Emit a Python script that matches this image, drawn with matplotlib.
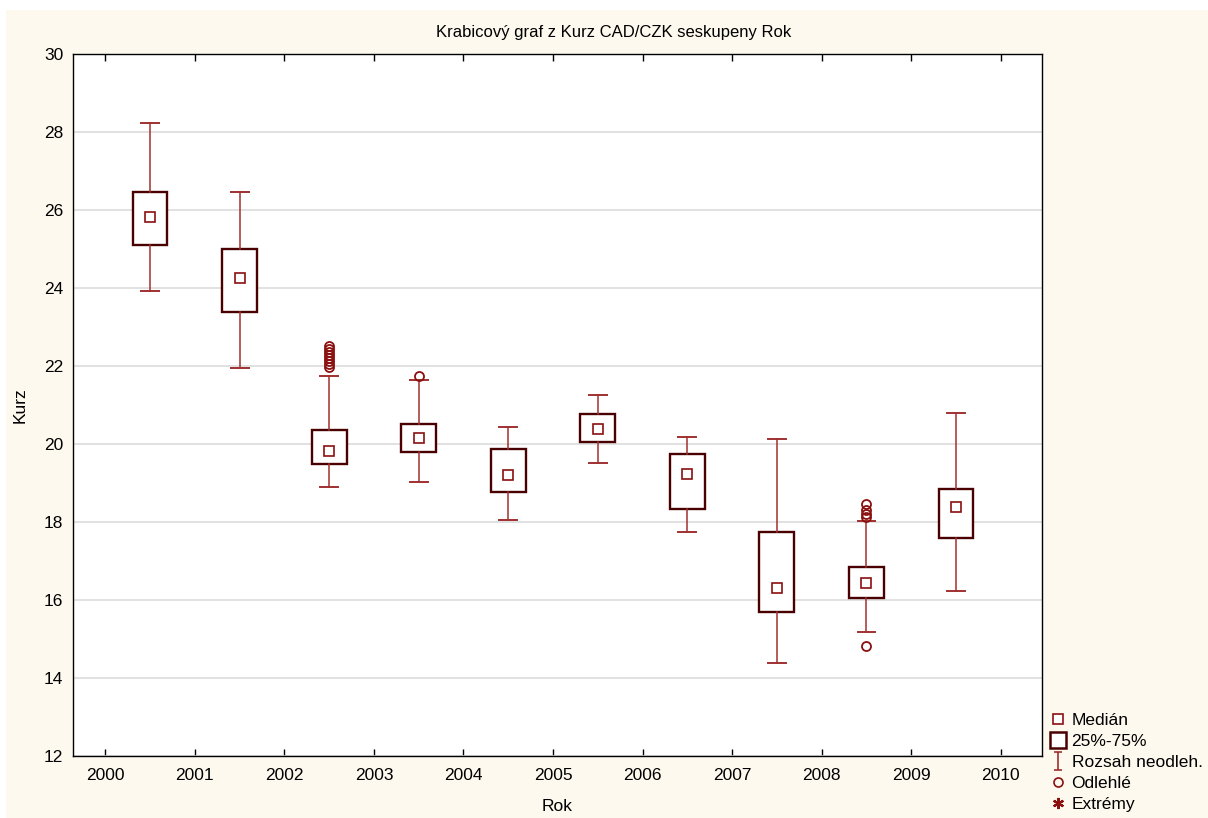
import matplotlib
matplotlib.use("Agg")
import matplotlib.pyplot as plt
from matplotlib.lines import Line2D
from matplotlib.patches import Rectangle
from matplotlib.path import Path

plt.rcParams["font.family"] = ["Liberation Sans", "DejaVu Sans"]

# Kurz CAD/CZK po rocich
years = [2000, 2001, 2002, 2003, 2004, 2005, 2006, 2007, 2008, 2009]
medians = [25.81, 24.26, 19.81, 20.16, 19.21, 20.38, 19.24, 16.31, 16.43, 18.38]
q1 = [25.10, 23.38, 19.48, 19.79, 18.77, 20.05, 18.34, 15.68, 16.05, 17.59]
q3 = [26.47, 25.01, 20.36, 20.52, 19.88, 20.78, 19.75, 17.74, 16.85, 18.85]
whis_lo = [23.93, 21.94, 18.91, 19.03, 18.05, 19.52, 17.75, 14.38, 15.18, 16.23]
whis_hi = [28.24, 26.47, 21.75, 21.64, 20.44, 21.26, 20.17, 20.14, 18.03, 20.79]
outliers = [
    [],
    [],
    [21.98, 22.04, 22.12, 22.20, 22.28, 22.36, 22.44, 22.52],
    [21.74],
    [],
    [],
    [],
    [],
    [14.83, 18.12, 18.20, 18.31, 18.46],
    [],
]
tick_years = list(range(2000, 2011))

box_col = "#4a0000"
line_col = "#a03030"
mark_col = "#8b1010"

fig = plt.figure(figsize=(12.08, 8.18), dpi=100)
fig.patch.set_facecolor("white")
fig.patches.append(Rectangle((6 / 1208, 0), 1, 1 - 10 / 818, transform=fig.transFigure,
                             facecolor="#fdf9ef", edgecolor="none", zorder=-10))

ax = fig.add_axes([73 / 1208, 1 - 756 / 818, (1042 - 73) / 1208, (756 - 54) / 818])
ax.set_facecolor("white")

stats = []
for i in range(len(years)):
    stats.append(dict(med=medians[i], q1=q1[i], q3=q3[i],
                      whislo=whis_lo[i], whishi=whis_hi[i], fliers=outliers[i]))
pos = [y + 0.5 for y in years]

ax.bxp(stats, positions=pos, widths=0.39, capwidths=0.2, patch_artist=True,
       boxprops=dict(facecolor="white", edgecolor=box_col, linewidth=1.7),
       whiskerprops=dict(color=line_col, linewidth=1.1),
       capprops=dict(color=line_col, linewidth=1.4),
       medianprops=dict(linewidth=0),
       flierprops=dict(marker="o", markersize=6.5, markerfacecolor="none",
                       markeredgecolor=mark_col, markeredgewidth=1.3),
       manage_ticks=False, zorder=3)
ax.plot(pos, medians, ls="none", marker="s", markersize=6.5, markerfacecolor="white",
        markeredgecolor=mark_col, markeredgewidth=1.2, zorder=4)

ax.set_xlim(1999.64, 2010.46)
ax.set_ylim(12, 30)
ax.set_xticks(tick_years)
ax.set_xticklabels([str(y) for y in tick_years])
ax.set_yticks(range(12, 31, 2))
ax.yaxis.grid(True, color="#dcdcdc", linewidth=1.2)
ax.set_axisbelow(True)
ax.tick_params(axis="x", direction="in", top=True, length=5, width=1, labelsize=12.5, pad=9)
ax.tick_params(axis="y", length=0, labelsize=12.5, pad=7)
for s in ax.spines.values():
    s.set_color("black")
    s.set_linewidth(1)

fig.text(614 / 1208, 1 - 33 / 818, "Krabicový graf z Kurz CAD/CZK seskupeny Rok",
         ha="center", va="center", fontsize=12)
ax.set_xlabel("Rok", fontsize=12.5, labelpad=11)
ax.set_ylabel("Kurz", fontsize=12.5, labelpad=12)

# whisker symbol for the legend
whisker_path = Path([(-0.5, 1), (0.5, 1), (0, 1), (0, -1), (-0.5, -1), (0.5, -1)],
                    [Path.MOVETO, Path.LINETO, Path.MOVETO, Path.LINETO, Path.MOVETO, Path.LINETO])
handles = [
    Line2D([], [], ls="none", marker="s", markersize=6.5, markerfacecolor="white",
           markeredgecolor=mark_col, markeredgewidth=1.2),
    Line2D([], [], ls="none", marker="s", markersize=11, markerfacecolor="white",
           markeredgecolor=box_col, markeredgewidth=1.8),
    Line2D([], [], ls="none", marker=whisker_path, markersize=12.5, markerfacecolor="none",
           markeredgecolor=line_col, markeredgewidth=1.2),
    Line2D([], [], ls="none", marker="o", markersize=6.5, markerfacecolor="none",
           markeredgecolor=mark_col, markeredgewidth=1.2),
    Line2D([], [], ls="none", marker=(6, 2, 0), markersize=8,
           markeredgecolor=mark_col, markeredgewidth=1.6),
]
labels = ["Medián", "25%-75%", "Rozsah neodleh.", "Odlehlé", "Extrémy"]
fig.legend(handles, labels, loc="lower left", bbox_to_anchor=(1036 / 1208, -0.010),
           frameon=False, fontsize=12.5, handlelength=0.9, handletextpad=0.35,
           labelspacing=0.34, borderpad=0.3)

fig.savefig("out.png", dpi=100, facecolor=fig.get_facecolor())
